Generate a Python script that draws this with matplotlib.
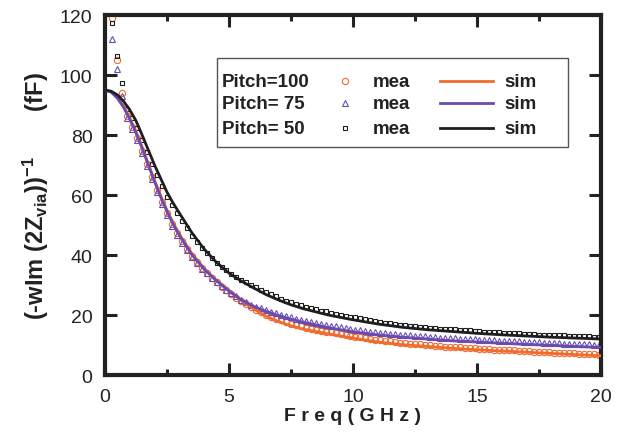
import numpy as np
import matplotlib
matplotlib.use("Agg")
import matplotlib.pyplot as plt
from matplotlib.patches import Rectangle
from matplotlib.ticker import MultipleLocator

plt.rcParams['font.family'] = ['Liberation Sans', 'DejaVu Sans']
plt.rcParams['mathtext.fontset'] = 'custom'
plt.rcParams['mathtext.rm'] = 'Liberation Sans:bold'
plt.rcParams['mathtext.default'] = 'rm'

# simulated curves (GHz, fF)
f_sim = [0, 0.25, 0.5, 0.75, 1.0, 1.25, 1.5, 1.75, 2.0, 2.25, 2.5, 2.75, 3.0,
         3.5, 4.0, 4.5, 5.0, 5.5, 6.0, 6.5, 7.0, 7.5, 8.0, 9.0, 10.0, 11.0,
         12.0, 13.0, 14.0, 15.0, 16.0, 17.0, 18.0, 19.0, 20.0]
sim_100 = [95.0, 94.4, 92.5, 89.6, 85.7, 81.2, 76.0, 70.4, 64.9, 59.7, 55.0,
           50.7, 47.0, 40.5, 35.5, 31.5, 28.2, 24.8, 22.0, 19.6, 17.8, 16.4,
           15.3, 13.7, 12.3, 11.0, 10.1, 9.5, 8.9, 8.4, 8.0, 7.6, 7.2, 6.8, 6.4]
sim_75 = [95.0, 94.3, 92.3, 89.3, 85.3, 80.8, 75.6, 70.0, 64.5, 59.3, 54.6,
          50.3, 46.6, 40.2, 35.3, 31.4, 28.0, 25.0, 22.8, 21.2, 19.8, 18.6,
          17.6, 15.8, 14.4, 13.4, 12.6, 12.0, 11.4, 11.0, 10.6, 10.2, 9.9, 9.5, 9.2]
sim_50 = [95.0, 94.6, 93.4, 91.3, 88.4, 84.8, 80.0, 75.0, 70.0, 65.5, 61.0,
          57.3, 54.0, 47.5, 42.0, 37.5, 34.0, 31.3, 29.0, 26.8, 25.0, 23.4,
          22.1, 20.0, 18.4, 17.0, 15.9, 15.1, 14.5, 13.9, 13.4, 13.0, 12.6, 12.3, 12.0]

# measured sweep, 0.3 .. 19.9 GHz in 0.2 GHz steps
f_mea = np.linspace(0.3, 19.9, 99)
mea_100 = [119.0, 105.0, 94.0, 86.5, 82.8, 79.0, 74.8, 70.4, 66.0, 61.7,
           57.6, 53.9, 50.4, 47.3, 44.6, 42.0, 39.6, 37.6, 35.7, 34.0,
           32.4, 30.9, 29.5, 28.2, 27.0, 25.7, 24.6, 23.6, 22.7, 21.8,
           20.9, 20.1, 19.4, 18.8, 18.2, 17.6, 17.1, 16.6, 16.2, 15.8,
           15.4, 15.1, 14.8, 14.5, 14.2, 13.9, 13.6, 13.3, 13.1, 12.8,
           12.6, 12.3, 12.1, 11.8, 11.6, 11.4, 11.2, 11.0, 10.8, 10.6,
           10.5, 10.3, 10.2, 10.0, 9.9, 9.8, 9.7, 9.5, 9.4, 9.3,
           9.2, 9.1, 9.0, 8.9, 8.8, 8.7, 8.6, 8.5, 8.4, 8.3,
           8.3, 8.2, 8.1, 8.0, 7.9, 7.8, 7.8, 7.7, 7.6, 7.5,
           7.5, 7.4, 7.3, 7.2, 7.1, 7.1, 7.0, 6.9, 6.8]
mea_75 = [112.0, 102.0, 93.0, 85.6, 82.0, 78.2, 74.0, 69.6, 65.2, 60.9,
          56.9, 53.2, 49.8, 46.8, 44.1, 41.6, 39.3, 37.4, 35.5, 33.9,
          32.4, 31.0, 29.7, 28.4, 27.3, 26.2, 25.1, 24.3, 23.5, 22.8,
          22.2, 21.6, 21.1, 20.6, 20.1, 19.7, 19.2, 18.8, 18.4, 18.1,
          17.8, 17.4, 17.0, 16.7, 16.4, 16.2, 15.9, 15.6, 15.4, 15.1,
          14.9, 14.7, 14.5, 14.3, 14.1, 14.0, 13.8, 13.6, 13.5, 13.3,
          13.2, 13.1, 13.0, 12.9, 12.7, 12.6, 12.5, 12.4, 12.3, 12.2,
          12.1, 12.0, 12.0, 11.9, 11.8, 11.7, 11.6, 11.6, 11.5, 11.4,
          11.3, 11.2, 11.2, 11.1, 11.0, 10.9, 10.9, 10.8, 10.7, 10.7,
          10.6, 10.5, 10.4, 10.4, 10.3, 10.2, 10.2, 10.1, 10.0]
mea_50 = [117.3, 106.3, 97.3, 88.6, 85.6, 82.4, 78.4, 74.4, 70.4, 66.6,
          62.9, 59.5, 56.8, 54.0, 51.4, 49.0, 46.5, 44.4, 42.4, 40.6,
          38.9, 37.4, 36.1, 34.9, 33.7, 32.7, 31.8, 30.9, 30.0, 29.2,
          28.4, 27.6, 26.9, 26.2, 25.5, 24.8, 24.2, 23.7, 23.2, 22.7,
          22.3, 21.9, 21.5, 21.2, 20.8, 20.5, 20.1, 19.8, 19.5, 19.2,
          18.9, 18.6, 18.3, 18.0, 17.7, 17.5, 17.2, 17.0, 16.8, 16.6,
          16.4, 16.2, 16.1, 15.9, 15.8, 15.6, 15.5, 15.4, 15.3, 15.2,
          15.1, 15.0, 14.9, 14.7, 14.6, 14.5, 14.4, 14.3, 14.2, 14.1,
          14.0, 13.9, 13.9, 13.8, 13.7, 13.6, 13.5, 13.5, 13.4, 13.3,
          13.3, 13.2, 13.1, 13.1, 13.0, 12.9, 12.9, 12.8, 12.7]

labels = ['Pitch=100', 'Pitch= 75', 'Pitch= 50']
colors = ['#f26b2e', '#6a4bb0', '#1e1e1e']
markers = ['o', '^', 's']
msizes = [4.5, 5.0, 3.2]

fig = plt.figure(figsize=(6.32, 4.39), dpi=100)
ax = fig.add_axes([0.166, 0.1435, 0.785, 0.82])

for mea, c, m, ms in zip([mea_100, mea_75, mea_50], colors, markers, msizes):
    ax.plot(f_mea, mea, ls='none', marker=m, ms=ms, mfc='none', mec=c,
            mew=0.8, clip_on=False, zorder=2)
for sim, c in zip([sim_100, sim_75, sim_50], colors):
    ax.plot(f_sim, sim, color=c, lw=2.0, zorder=3)

ax.set_xlim(0, 20)
ax.set_ylim(0, 120)
ax.xaxis.set_major_locator(MultipleLocator(5))
ax.xaxis.set_minor_locator(MultipleLocator(2.5))
ax.yaxis.set_major_locator(MultipleLocator(20))
ax.tick_params(which='both', direction='in', top=True, right=True,
               width=2.2, color='#222222', labelsize=14, labelcolor='#222222')
ax.tick_params(which='major', length=8.5, pad=9)
ax.tick_params(which='minor', length=4.5)
for s in ax.spines.values():
    s.set_linewidth(3.0)
    s.set_color('#222222')

ax.set_xlabel('F r e q ( G H z )', fontsize=14, fontweight='bold',
              labelpad=2, color='#222222')
ax.set_ylabel(r'(-wIm (2Z$_{via}$))$^{-1}$       (fF)', fontsize=17,
              fontweight='bold', labelpad=6, color='#222222')

# legend drawn as a table: pitch | mea marker | sim line
ax.add_patch(Rectangle((0.2265, 0.634), 0.707, 0.2466, transform=ax.transAxes,
                       fill=False, ec='#555555', lw=1.0, zorder=4))
rows = [0.8167, 0.7547, 0.6853]
for y, lab, c, m, ms in zip(rows, labels, colors, markers, msizes):
    ax.text(0.2355, y, lab, transform=ax.transAxes, fontsize=13.5,
            fontweight='bold', va='center', ha='left', color='#222222')
    ax.plot([0.484], [y], transform=ax.transAxes, ls='none', marker=m, ms=ms,
            mfc='none', mec=c, mew=0.8)
    ax.text(0.540, y, 'mea', transform=ax.transAxes, fontsize=13.5,
            fontweight='bold', va='center', ha='left', color='#222222')
    ax.plot([0.675, 0.783], [y, y], transform=ax.transAxes, color=c, lw=2.0)
    ax.text(0.805, y, 'sim', transform=ax.transAxes, fontsize=13.5,
            fontweight='bold', va='center', ha='left', color='#222222')

fig.savefig('out.png', dpi=100)
